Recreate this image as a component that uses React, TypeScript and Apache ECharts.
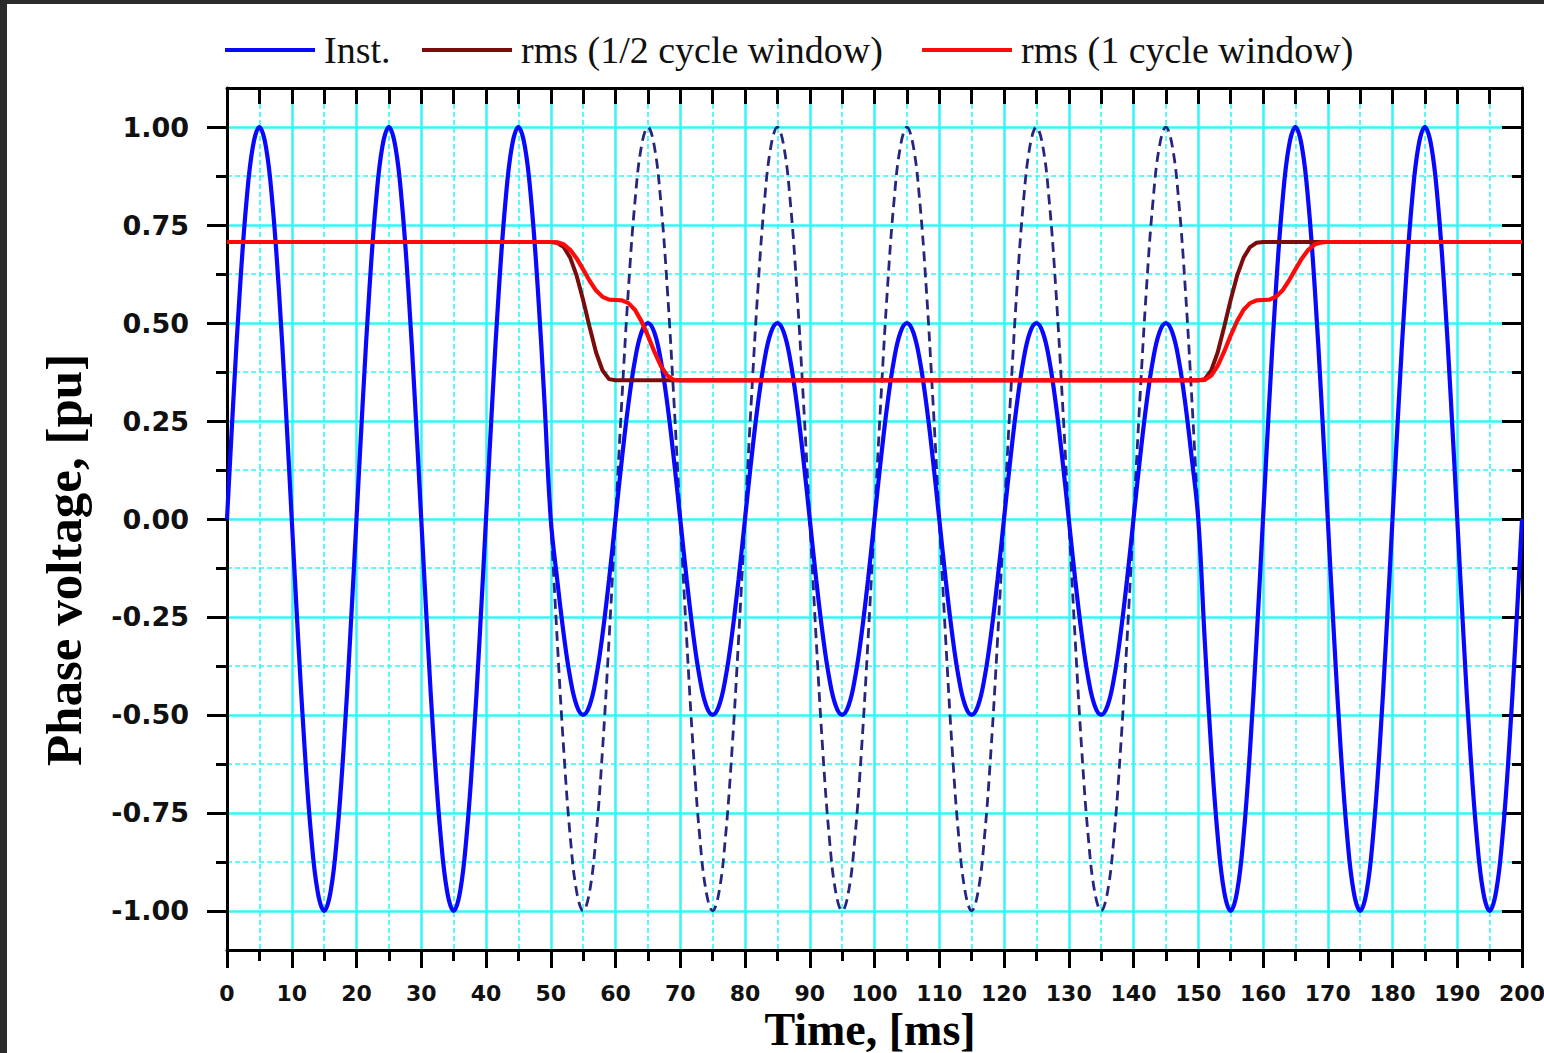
import { useEffect, useRef } from "react";
import * as echarts from "echarts";

// ---------- data ----------
const Y_TICKS_PU = [-1, -0.75, -0.5, -0.25, 0, 0.25, 0.5, 0.75, 1];

const LEGEND_NAMES = ["Inst.", "rms (1/2 cycle window)", "rms (1 cycle window)"];

// instantaneous phase voltage, one sample per ms from 0 to 200 ms
const INST_PU = [
  0, 0.309, 0.588, 0.809, 0.951, 1, 0.951, 0.809, 0.588, 0.309, 0, -0.309, -0.588, -0.809, -0.951, -1, -0.951, -0.809, -0.588, -0.309,
  0, 0.309, 0.588, 0.809, 0.951, 1, 0.951, 0.809, 0.588, 0.309, 0, -0.309, -0.588, -0.809, -0.951, -1, -0.951, -0.809, -0.588, -0.309,
  0, 0.309, 0.588, 0.809, 0.951, 1, 0.951, 0.809, 0.588, 0.309,
  0, -0.155, -0.294, -0.405, -0.476, -0.5, -0.476, -0.405, -0.294, -0.155, 0, 0.155, 0.294, 0.405, 0.476, 0.5, 0.476, 0.405, 0.294, 0.155,
  0, -0.155, -0.294, -0.405, -0.476, -0.5, -0.476, -0.405, -0.294, -0.155, 0, 0.155, 0.294, 0.405, 0.476, 0.5, 0.476, 0.405, 0.294, 0.155,
  0, -0.155, -0.294, -0.405, -0.476, -0.5, -0.476, -0.405, -0.294, -0.155, 0, 0.155, 0.294, 0.405, 0.476, 0.5, 0.476, 0.405, 0.294, 0.155,
  0, -0.155, -0.294, -0.405, -0.476, -0.5, -0.476, -0.405, -0.294, -0.155, 0, 0.155, 0.294, 0.405, 0.476, 0.5, 0.476, 0.405, 0.294, 0.155,
  0, -0.155, -0.294, -0.405, -0.476, -0.5, -0.476, -0.405, -0.294, -0.155, 0, 0.155, 0.294, 0.405, 0.476, 0.5, 0.476, 0.405, 0.294, 0.155,
  0, -0.309, -0.588, -0.809, -0.951, -1, -0.951, -0.809, -0.588, -0.309, 0, 0.309, 0.588, 0.809, 0.951, 1, 0.951, 0.809, 0.588, 0.309,
  0, -0.309, -0.588, -0.809, -0.951, -1, -0.951, -0.809, -0.588, -0.309, 0, 0.309, 0.588, 0.809, 0.951, 1, 0.951, 0.809, 0.588, 0.309,
  0, -0.309, -0.588, -0.809, -0.951, -1, -0.951, -0.809, -0.588, -0.309, 0,
];

// pre-sag waveform (dashed), one sample per ms from 50 to 150 ms
const PREFAULT_START_MS = 50;
const PREFAULT_PU = [
  0, -0.309, -0.588, -0.809, -0.951, -1, -0.951, -0.809, -0.588, -0.309, 0, 0.309, 0.588, 0.809, 0.951, 1, 0.951, 0.809, 0.588, 0.309,
  0, -0.309, -0.588, -0.809, -0.951, -1, -0.951, -0.809, -0.588, -0.309, 0, 0.309, 0.588, 0.809, 0.951, 1, 0.951, 0.809, 0.588, 0.309,
  0, -0.309, -0.588, -0.809, -0.951, -1, -0.951, -0.809, -0.588, -0.309, 0, 0.309, 0.588, 0.809, 0.951, 1, 0.951, 0.809, 0.588, 0.309,
  0, -0.309, -0.588, -0.809, -0.951, -1, -0.951, -0.809, -0.588, -0.309, 0, 0.309, 0.588, 0.809, 0.951, 1, 0.951, 0.809, 0.588, 0.309,
  0, -0.309, -0.588, -0.809, -0.951, -1, -0.951, -0.809, -0.588, -0.309, 0, 0.309, 0.588, 0.809, 0.951, 1, 0.951, 0.809, 0.588, 0.309,
  0,
];

// rms, half-cycle window
const RMS_HALF_MS = [0, 50, 51, 52, 53, 54, 55, 56, 57, 58, 59, 60, 150, 151, 152, 153, 154, 155, 156, 157, 158, 159, 160, 200];
const RMS_HALF_PU = [0.707, 0.707, 0.705, 0.694, 0.667, 0.621, 0.559, 0.49, 0.425, 0.379, 0.357, 0.354, 0.354, 0.357, 0.379, 0.425, 0.49, 0.559, 0.621, 0.667, 0.694, 0.705, 0.707, 0.707];

// rms, one-cycle window
const RMS_FULL_MS = [
  0, 50, 51, 52, 53, 54, 55, 56, 57, 58, 59, 60, 61, 62, 63, 64, 65, 66, 67, 68, 69, 70,
  150, 151, 152, 153, 154, 155, 156, 157, 158, 159, 160, 161, 162, 163, 164, 165, 166, 167, 168, 169, 170, 200,
];
const RMS_FULL_PU = [
  0.707, 0.707, 0.706, 0.701, 0.687, 0.665, 0.637, 0.608, 0.583, 0.567, 0.56, 0.559, 0.558, 0.551, 0.534, 0.505, 0.468, 0.427, 0.391, 0.366, 0.355, 0.354,
  0.354, 0.355, 0.366, 0.391, 0.427, 0.468, 0.505, 0.534, 0.551, 0.558, 0.559, 0.56, 0.567, 0.583, 0.608, 0.637, 0.665, 0.687, 0.701, 0.706, 0.707, 0.707,
];

// ---------- styling ----------
const CYAN = "#33f6f8";
const BLACK = "#000";
const LABEL_FONT = "DejaVu Sans";
const SERIF = "Liberation Serif";

export default function App() {
  const ref = useRef<HTMLDivElement>(null);

  useEffect(() => {
    if (!ref.current) return;
    const chart = echarts.init(ref.current, null, { renderer: "svg" });

    const frameLine = { show: true, onZero: false, lineStyle: { color: BLACK, width: 3 } };
    const legendBase = {
      top: 31,
      padding: 0,
      itemWidth: 90,
      itemHeight: 4,
      icon: "rect",
      selectedMode: false,
      textStyle: { fontFamily: SERIF, fontSize: 38, color: "#111", padding: [0, 0, 0, 4] },
    };

    const option: any = {
      animation: false,
      backgroundColor: "#ffffff",
      grid: { left: 227, right: 22, top: 88, bottom: 103, containLabel: false, outerBoundsMode: "none" },
      legend: [
        { ...legendBase, left: 225, data: [LEGEND_NAMES[0]] },
        { ...legendBase, left: 422, data: [LEGEND_NAMES[1]] },
        { ...legendBase, left: 922, data: [LEGEND_NAMES[2]] },
      ],
      graphic: [
        { type: "rect", left: 0, top: 0, z: 100, shape: { width: 7, height: 1053 }, style: { fill: "#2b2b2b" } },
        { type: "rect", left: 0, top: 0, z: 100, shape: { width: 1544, height: 4 }, style: { fill: "#2b2b2b" } },
        {
          type: "text",
          x: 64,
          y: 560,
          rotation: Math.PI / 2,
          style: {
            text: "Phase voltage, [pu]",
            fontFamily: SERIF,
            fontWeight: "bold",
            fontSize: 51,
            fill: BLACK,
            align: "center",
            verticalAlign: "middle",
          },
        },
        {
          type: "text",
          x: 870,
          y: 1029,
          style: {
            text: "Time, [ms]",
            fontFamily: SERIF,
            fontWeight: "bold",
            fontSize: 46,
            fill: BLACK,
            align: "center",
            verticalAlign: "middle",
          },
        },
      ],
      xAxis: [
        {
          type: "value",
          position: "bottom",
          min: 0,
          max: 200,
          interval: 10,
          axisLine: frameLine,
          axisTick: { show: true, inside: false, length: 18, lineStyle: { color: BLACK, width: 3 } },
          minorTick: { show: true, splitNumber: 2, length: 11, lineStyle: { color: BLACK, width: 3 } },
          splitLine: { show: true, lineStyle: { color: CYAN, width: 2.5 } },
          minorSplitLine: { show: true, lineStyle: { color: CYAN, width: 1.6, type: [5, 3] } },
          axisLabel: {
            show: true,
            margin: 32,
            fontFamily: LABEL_FONT,
            fontWeight: "bold",
            fontSize: 22,
            color: "#111",
            showMinLabel: true,
            showMaxLabel: true,
          },
        },
        {
          type: "value",
          position: "top",
          min: 0,
          max: 200,
          interval: 5,
          axisLine: frameLine,
          axisTick: { show: true, inside: true, length: 16, lineStyle: { color: BLACK, width: 3 } },
          axisLabel: { show: false },
          splitLine: { show: false },
        },
      ],
      yAxis: [
        {
          type: "value",
          position: "left",
          min: -1.1,
          max: 1.1,
          minInterval: 0.25,
          maxInterval: 0.25,
          axisLine: frameLine,
          axisTick: { show: true, inside: false, length: 20, customValues: Y_TICKS_PU, lineStyle: { color: BLACK, width: 3 } },
          minorTick: { show: true, splitNumber: 2, length: 11, lineStyle: { color: BLACK, width: 3 } },
          splitLine: { show: true, lineStyle: { color: CYAN, width: 2.5 } },
          minorSplitLine: { show: true, lineStyle: { color: CYAN, width: 1.6, type: [5, 3] } },
          axisLabel: {
            show: true,
            customValues: Y_TICKS_PU,
            margin: 38,
            fontFamily: LABEL_FONT,
            fontWeight: "bold",
            fontSize: 27,
            color: "#111",
            formatter: (v: number) => v.toFixed(2),
          },
        },
        {
          type: "value",
          position: "right",
          min: -1.1,
          max: 1.1,
          minInterval: 0.25,
          maxInterval: 0.25,
          axisLine: frameLine,
          axisTick: { show: true, inside: true, length: 20, customValues: Y_TICKS_PU, lineStyle: { color: BLACK, width: 3 } },
          minorTick: { show: true, splitNumber: 2, length: 10, lineStyle: { color: BLACK, width: 3 } },
          splitLine: { show: false },
          minorSplitLine: { show: false },
          axisLabel: { show: false },
        },
      ],
      series: [
        {
          name: "pre-sag",
          type: "line",
          showSymbol: false,
          smooth: 0.4,
          data: PREFAULT_PU.map((v, i) => [PREFAULT_START_MS + i, v]),
          lineStyle: { color: "#26267e", width: 2.8, type: [10, 6] },
          emphasis: { disabled: true },
          z: 2,
        },
        {
          name: LEGEND_NAMES[0],
          type: "line",
          showSymbol: false,
          smooth: 0.4,
          data: INST_PU.map((v, i) => [i, v]),
          lineStyle: { color: "#0808ff", width: 4.2 },
          itemStyle: { color: "#0808ff" },
          emphasis: { disabled: true },
          z: 3,
        },
        {
          name: LEGEND_NAMES[1],
          type: "line",
          showSymbol: false,
          data: RMS_HALF_MS.map((t, i) => [t, RMS_HALF_PU[i]]),
          lineStyle: { color: "#7a0c0c", width: 4 },
          itemStyle: { color: "#7a0c0c" },
          emphasis: { disabled: true },
          z: 4,
        },
        {
          name: LEGEND_NAMES[2],
          type: "line",
          showSymbol: false,
          data: RMS_FULL_MS.map((t, i) => [t, RMS_FULL_PU[i]]),
          lineStyle: { color: "#ff0a0a", width: 4.2 },
          itemStyle: { color: "#ff0a0a" },
          emphasis: { disabled: true },
          z: 5,
        },
      ],
    };

    chart.setOption(option);
    return () => chart.dispose();
  }, []);

  return (
    <div
      ref={ref}
      style={{ position: "fixed", left: 0, top: 0, width: 1544, height: 1053, background: "#fff" }}
    />
  );
}
